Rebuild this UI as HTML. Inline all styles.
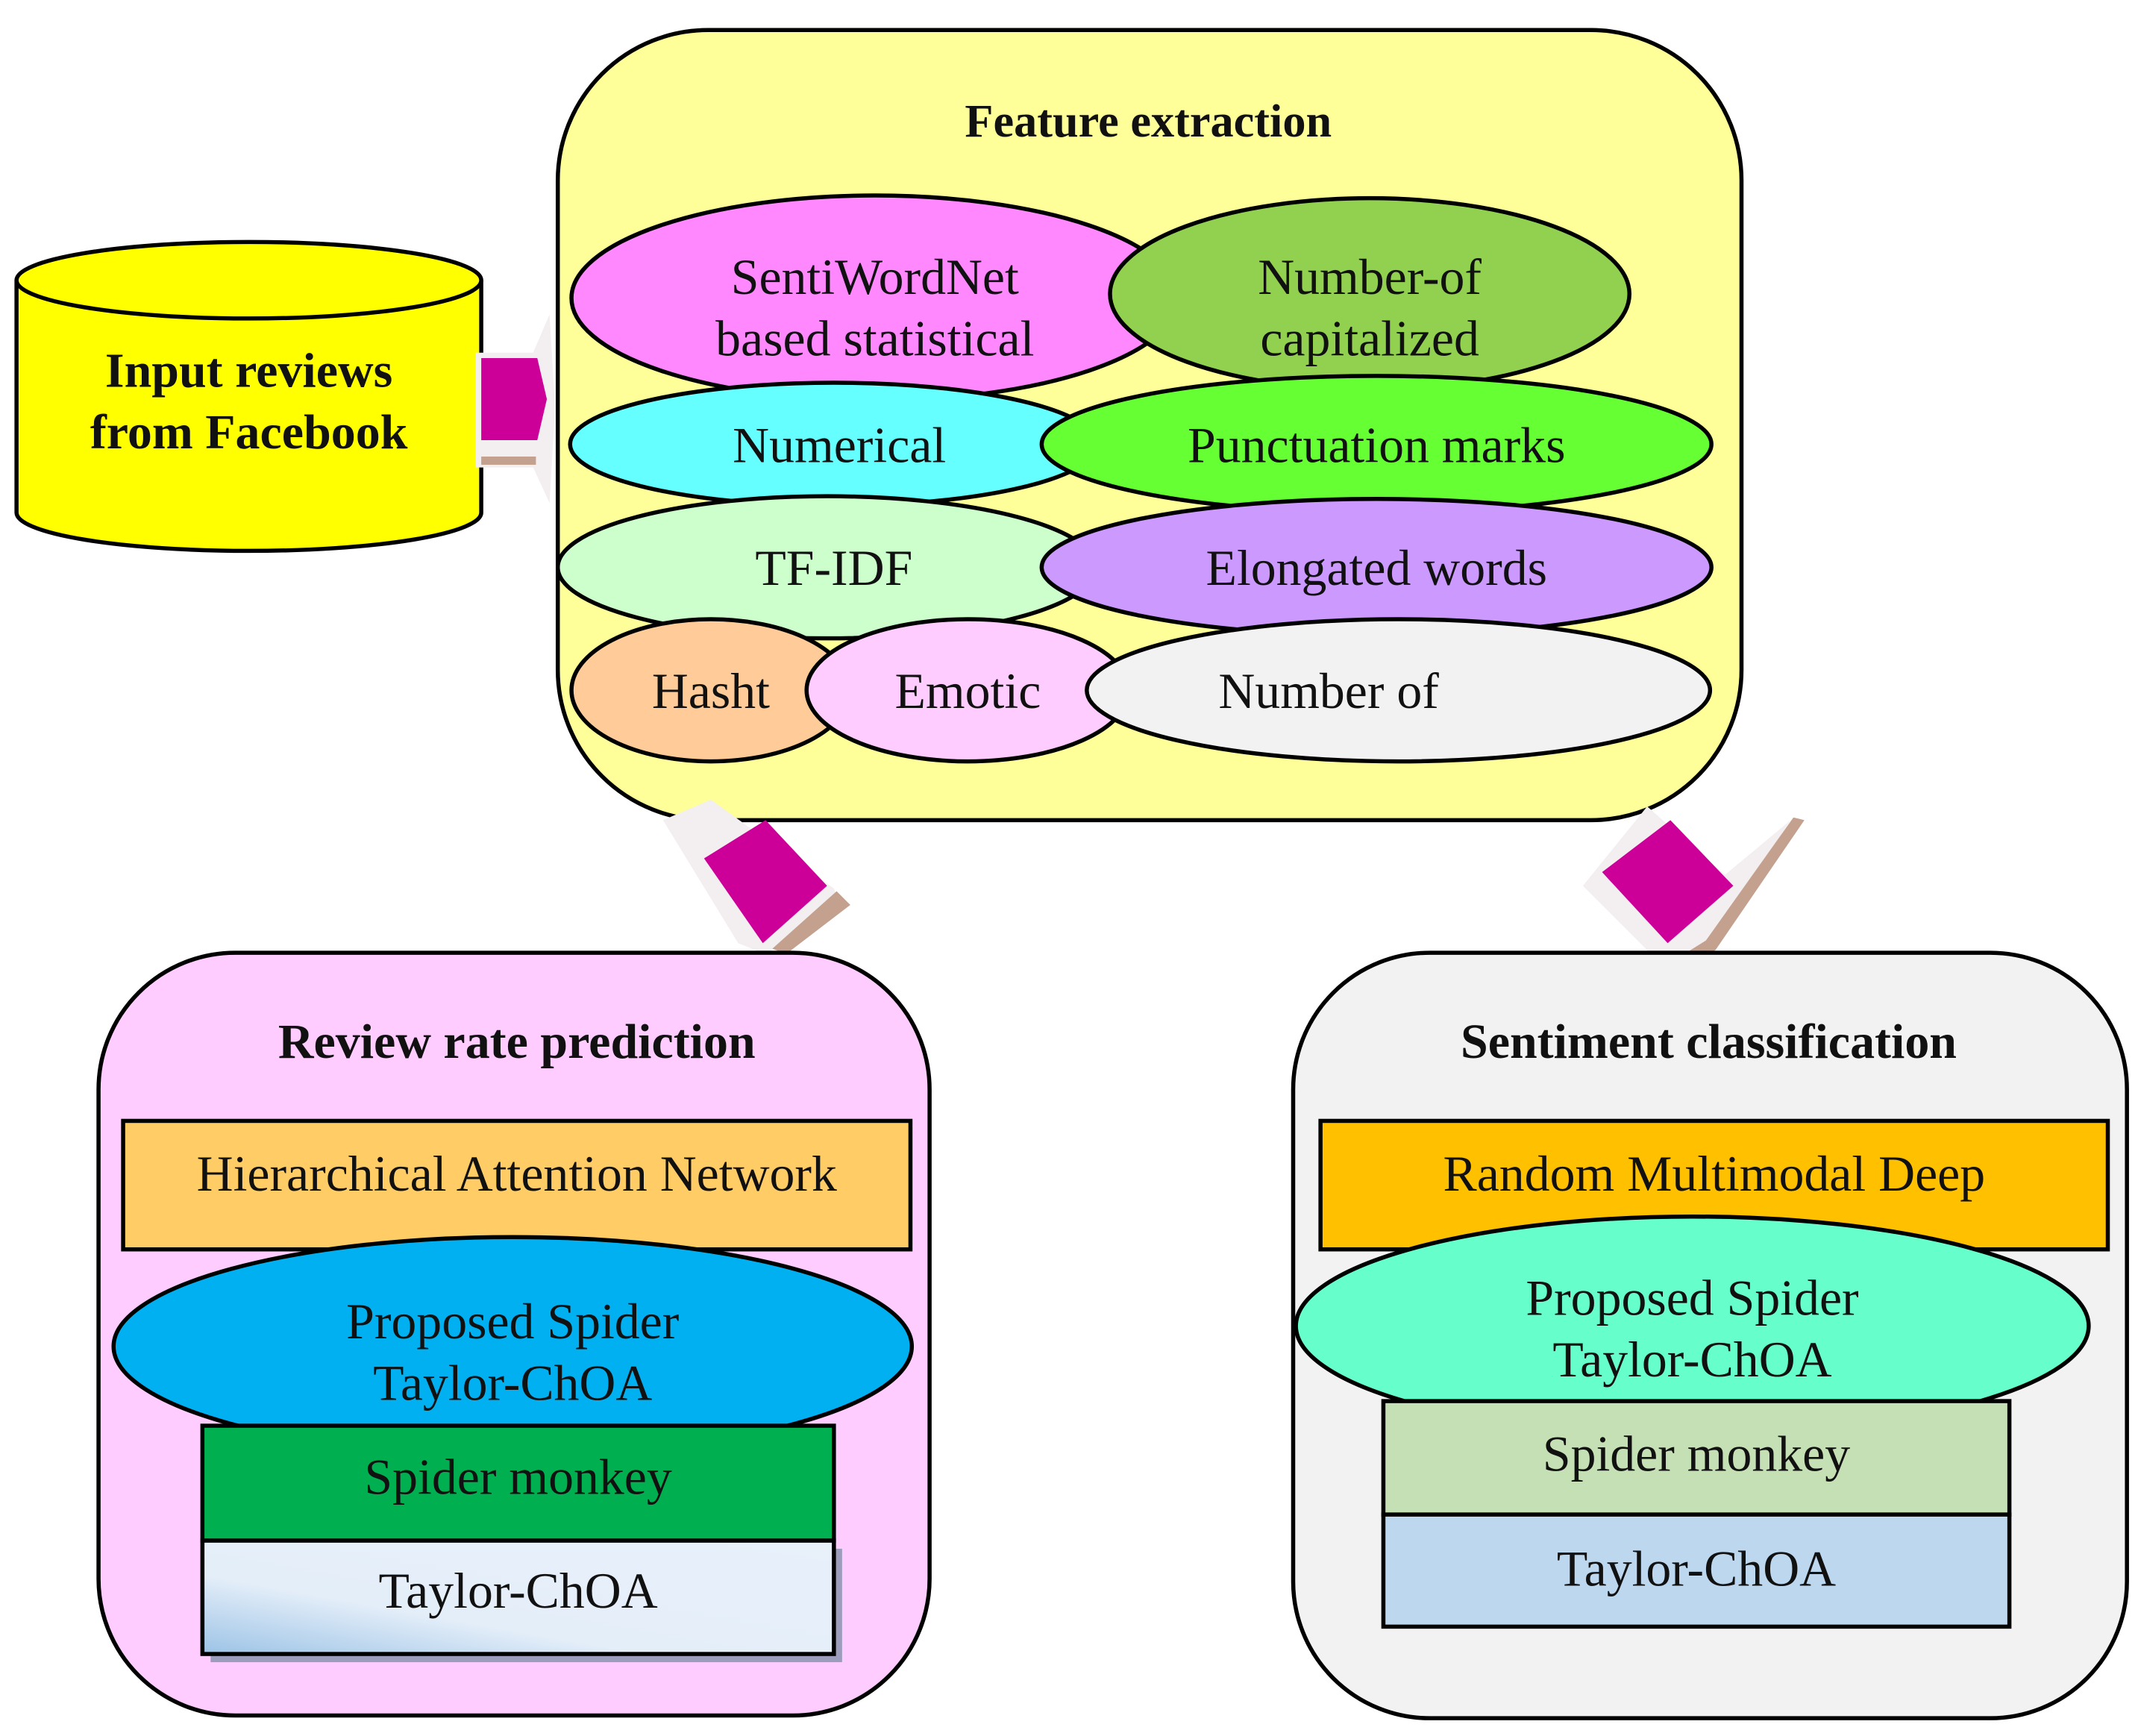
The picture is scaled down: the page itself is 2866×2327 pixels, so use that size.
<!DOCTYPE html>
<html><head><meta charset="utf-8"><style>
html,body{margin:0;padding:0;background:#fff;}
svg{display:block;}
text{font-family:"Liberation Serif",serif;fill:#111;}
</style></head><body>
<svg width="2866" height="2327" viewBox="0 0 1564 1270" xmlns="http://www.w3.org/2000/svg">
<defs>
<linearGradient id="g1" x1="0" y1="1" x2="1" y2="0">
<stop offset="0" stop-color="#9cc3e6"/><stop offset="0.35" stop-color="#e4eef9"/><stop offset="1" stop-color="#e8f0fa"/>
</linearGradient>
</defs>
<path d="M12,205 L12,375 A170,28 0 0 0 352,375 L352,205" fill="#ffff00" stroke="#000" stroke-width="3"/>
<ellipse cx="182" cy="205" rx="170" ry="28" fill="#ffff00" stroke="#000" stroke-width="3"/>
<text x="182" y="283" font-size="36" font-weight="bold" text-anchor="middle">Input reviews</text>
<text x="182" y="328" font-size="36" font-weight="bold" text-anchor="middle">from Facebook</text>
<path d="M348,258 L390,258 L402,230 L406,298 L402,368 L390,342 L348,342 Z" fill="#f3eef0"/>
<rect x="352" y="334" width="40" height="6" fill="#c4a08e"/>
<path d="M352,262 L393,262 L400,292 L393,322 L352,322 Z" fill="#cc0099"/>
<rect x="408" y="22" width="866" height="578" rx="110" fill="#ffff99" stroke="#000" stroke-width="3"/>
<text x="840" y="100" font-size="34" font-weight="bold" text-anchor="middle">Feature extraction</text>
<g stroke="#000" stroke-width="3">
<ellipse cx="640" cy="218" rx="222" ry="75" fill="#ff88ff"/>
<ellipse cx="1002" cy="215" rx="190" ry="70" fill="#92d050"/>
<ellipse cx="610" cy="325" rx="193" ry="45" fill="#66ffff"/>
<ellipse cx="1007" cy="325" rx="245" ry="50" fill="#66ff33"/>
<ellipse cx="605" cy="415" rx="197" ry="52" fill="#ccffcc"/>
<ellipse cx="1007" cy="415" rx="245" ry="50" fill="#cc99ff"/>
<ellipse cx="520" cy="505" rx="102" ry="52" fill="#ffcc99"/>
<ellipse cx="708" cy="505" rx="118" ry="52" fill="#ffccff"/>
<ellipse cx="1023" cy="505" rx="228" ry="52" fill="#f2f2f2"/>
</g>
<g font-size="37" text-anchor="middle">
<text x="640" y="215">SentiWordNet</text>
<text x="640" y="260">based statistical</text>
<text x="1002" y="215">Number-of</text>
<text x="1002" y="260">capitalized</text>
<text x="614" y="338">Numerical</text>
<text x="1007" y="338">Punctuation marks</text>
<text x="610" y="428">TF-IDF</text>
<text x="1007" y="428">Elongated words</text>
<text x="520" y="518">Hasht</text>
<text x="708" y="518">Emotic</text>
<text x="972" y="518">Number of</text>
</g>
<path d="M485,600 L520,585 L610,650 L615,662 L560,698 L540,690 Z" fill="#f3eef0"/>
<path d="M612,652 L622,662 L575,698 L565,694 Z" fill="#c4a08e"/>
<path d="M515,628 L560,600 L605,648 L558,690 Z" fill="#cc0099"/>
<path d="M1158,648 L1205,590 L1262,640 L1310,600 L1250,690 L1170,740 L1160,735 L1210,700 Z" fill="#f3eef0"/>
<path d="M1312,598 L1320,600 L1255,695 L1175,742 L1168,738 L1248,688 Z" fill="#c4a08e"/>
<path d="M1172,638 L1222,600 L1268,648 L1220,690 Z" fill="#cc0099"/>
<rect x="72" y="697" width="608" height="558" rx="100" fill="#ffccff" stroke="#000" stroke-width="3"/>
<text x="378" y="774" font-size="36" font-weight="bold" text-anchor="middle">Review rate prediction</text>
<rect x="90" y="820" width="576" height="94" fill="#ffcc66" stroke="#000" stroke-width="3"/>
<text x="378" y="871" font-size="37" text-anchor="middle">Hierarchical Attention Network</text>
<ellipse cx="375" cy="985" rx="292" ry="80" fill="#00b0f0" stroke="#000" stroke-width="3"/>
<text x="375" y="979" font-size="37" text-anchor="middle">Proposed Spider</text>
<text x="375" y="1024" font-size="37" text-anchor="middle">Taylor-ChOA</text>
<rect x="154" y="1133" width="462" height="83" fill="#9c9cbc"/>
<rect x="148" y="1127" width="462" height="83" fill="url(#g1)" stroke="#000" stroke-width="3"/>
<rect x="148" y="1043" width="462" height="84" fill="#00b050" stroke="#000" stroke-width="3"/>
<text x="379" y="1093" font-size="37" text-anchor="middle">Spider monkey</text>
<text x="379" y="1176" font-size="37" text-anchor="middle">Taylor-ChOA</text>
<rect x="946" y="697" width="610" height="560" rx="100" fill="#f2f2f2" stroke="#000" stroke-width="3"/>
<text x="1250" y="774" font-size="36" font-weight="bold" text-anchor="middle">Sentiment classification</text>
<rect x="966" y="820" width="576" height="94" fill="#ffc000" stroke="#000" stroke-width="3"/>
<text x="1254" y="871" font-size="37" text-anchor="middle">Random Multimodal Deep</text>
<ellipse cx="1238" cy="970" rx="290" ry="80" fill="#66ffcc" stroke="#000" stroke-width="3"/>
<text x="1238" y="962" font-size="37" text-anchor="middle">Proposed Spider</text>
<text x="1238" y="1007" font-size="37" text-anchor="middle">Taylor-ChOA</text>
<rect x="1012" y="1025" width="458" height="83" fill="#c5e0b4" stroke="#000" stroke-width="3"/>
<rect x="1012" y="1108" width="458" height="82" fill="#bdd7ee" stroke="#000" stroke-width="3"/>
<text x="1241" y="1076" font-size="37" text-anchor="middle">Spider monkey</text>
<text x="1241" y="1160" font-size="37" text-anchor="middle">Taylor-ChOA</text>
</svg>
</body></html>
